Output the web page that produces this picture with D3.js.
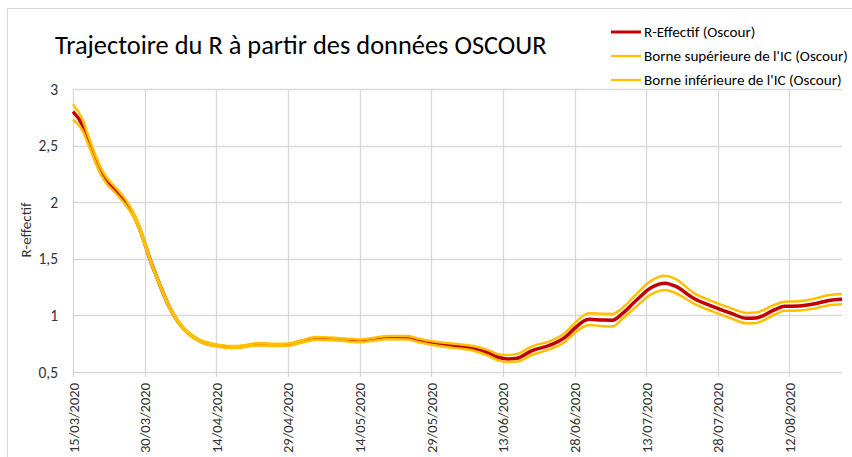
<!DOCTYPE html>
<html><head><meta charset="utf-8">
<script src="https://cdn.jsdelivr.net/npm/d3@7"></script>
<style>
html,body{margin:0;padding:0;background:#fff;}
svg{display:block;font-family:Carlito,Lato,"Liberation Sans",sans-serif;}
</style></head><body>
<svg id="chart" width="852" height="457"></svg>
<script>
// ---- DATA ----
const title = "Trajectoire du R à partir des données OSCOUR";
const yLabel = "R-effectif";
const seriesNames = ["R-Effectif (Oscour)", "Borne supérieure de l'IC (Oscour)", "Borne inférieure de l'IC (Oscour)"];
const dates = ["2020-03-15","2020-03-17","2020-03-18","2020-03-20","2020-03-21","2020-03-22","2020-03-24","2020-03-26","2020-03-28","2020-03-30",
"2020-03-31","2020-04-02","2020-04-04","2020-04-05","2020-04-07","2020-04-09","2020-04-11","2020-04-13","2020-04-16","2020-04-18",
"2020-04-20","2020-04-23","2020-04-26","2020-04-29","2020-05-02","2020-05-05","2020-05-08","2020-05-11","2020-05-14","2020-05-17",
"2020-05-20","2020-05-24","2020-05-26","2020-05-29","2020-06-03","2020-06-07","2020-06-10","2020-06-12","2020-06-14","2020-06-16",
"2020-06-19","2020-06-23","2020-06-26","2020-06-28","2020-07-01","2020-07-04","2020-07-06","2020-07-08","2020-07-11","2020-07-14",
"2020-07-17","2020-07-19","2020-07-23","2020-07-27","2020-07-31","2020-08-03","2020-08-05","2020-08-09","2020-08-11","2020-08-14",
"2020-08-17","2020-08-20","2020-08-23"];
const rEffectif = [2.80,2.68,2.57,2.35,2.26,2.19,2.10,2.00,1.86,1.64,
1.51,1.29,1.09,1.01,0.89,0.815,0.767,0.742,0.724,0.72,
0.73,0.745,0.739,0.741,0.772,0.797,0.792,0.784,0.775,0.79,
0.803,0.802,0.783,0.757,0.73,0.707,0.668,0.63,0.615,0.622,
0.687,0.74,0.805,0.885,0.965,0.959,0.958,1.015,1.136,1.245,
1.285,1.26,1.15,1.078,1.015,0.974,0.977,1.052,1.08,1.083,
1.10,1.13,1.142];
const borneSup = [2.865,2.73,2.61,2.385,2.29,2.22,2.125,2.025,1.88,1.655,
1.52,1.30,1.10,1.02,0.90,0.825,0.777,0.752,0.733,0.729,
0.739,0.755,0.749,0.751,0.783,0.809,0.804,0.796,0.788,0.803,
0.817,0.817,0.799,0.774,0.749,0.728,0.693,0.658,0.65,0.66,
0.725,0.775,0.845,0.93,1.02,1.015,1.013,1.063,1.19,1.305,
1.35,1.325,1.197,1.122,1.06,1.022,1.025,1.095,1.12,1.125,
1.145,1.178,1.19];
const borneInf = [2.73,2.63,2.53,2.32,2.23,2.165,2.075,1.975,1.845,1.625,
1.50,1.28,1.08,1.00,0.88,0.806,0.758,0.733,0.715,0.711,
0.721,0.735,0.729,0.731,0.761,0.785,0.78,0.772,0.762,0.777,
0.789,0.787,0.767,0.74,0.711,0.686,0.643,0.603,0.588,0.592,
0.65,0.705,0.765,0.845,0.915,0.905,0.902,0.97,1.08,1.185,
1.225,1.2,1.105,1.033,0.97,0.93,0.933,1.01,1.04,1.043,
1.06,1.088,1.098];
const yTicks = [0.5,1,1.5,2,2.5,3];
const xTickLabels = ["15/03/2020","30/03/2020","14/04/2020","29/04/2020","14/05/2020","29/05/2020","13/06/2020","28/06/2020","13/07/2020","28/07/2020","12/08/2020"];

// ---- CHART ----
const svg = d3.select("#chart");
const parse = d3.utcParse("%Y-%m-%d");
const parseTick = d3.utcParse("%d/%m/%Y");
const pts = dates.map((d,i)=>({date:parse(d), r:rEffectif[i], up:borneSup[i], lo:borneInf[i]}));

const x = d3.scaleUtc().domain([parse("2020-03-15"), parse("2020-08-23")]).range([73, 842]);
const y = d3.scaleLinear().domain([0.5, 3]).range([372, 89]);

const grid = "#d9d9d9";
const txt = "#333333";
// frame
svg.append("rect").attr("x",7.5).attr("y",8.5).attr("width",860).attr("height",470)
  .attr("fill","none").attr("stroke",grid).attr("stroke-width",1);

// horizontal gridlines
svg.append("g").selectAll("line").data(yTicks).join("line")
  .attr("x1",73).attr("x2",842).attr("y1",d=>Math.round(y(d))+0.5).attr("y2",d=>Math.round(y(d))+0.5)
  .attr("stroke",grid).attr("stroke-width",1.3);
// vertical gridlines + ticks
const xTickDates = xTickLabels.map(parseTick);
svg.append("g").selectAll("line").data(xTickDates).join("line")
  .attr("x1",d=>Math.round(x(d))+0.5).attr("x2",d=>Math.round(x(d))+0.5)
  .attr("y1",89).attr("y2",377)
  .attr("stroke",grid).attr("stroke-width",1.3);

// y tick labels
svg.append("g").selectAll("text").data(yTicks).join("text")
  .attr("x",58).attr("y",d=>y(d)+5.5).attr("text-anchor","end")
  .attr("font-size",15.5).attr("fill",txt)
  .text(d=>d3.format("")(d).replace(".",","));
// y label
svg.append("text").attr("transform","translate(31,230) rotate(-90)")
  .attr("text-anchor","middle").attr("font-size",15).attr("fill",txt).text(yLabel);
// x tick labels
svg.append("g").selectAll("text").data(xTickDates).join("text")
  .attr("transform",(d,i)=>`translate(${x(d)+5.5},383) rotate(-90)`)
  .attr("text-anchor","end").attr("font-size",14.5).attr("fill",txt)
  .text((d,i)=>xTickLabels[i]);

// lines
const mk = key => d3.line().x(d=>x(d.date)).y(d=>y(d[key])).curve(d3.curveMonotoneX);
svg.append("path").datum(pts).attr("d",mk("r")).attr("fill","none").attr("stroke","#C00000").attr("stroke-width",3.5).attr("stroke-linejoin","round");
svg.append("path").datum(pts).attr("d",mk("up")).attr("fill","none").attr("stroke","#FFC000").attr("stroke-width",2.5).attr("stroke-linejoin","round");
svg.append("path").datum(pts).attr("d",mk("lo")).attr("fill","none").attr("stroke","#FFC000").attr("stroke-width",2.5).attr("stroke-linejoin","round");

// title
const t = svg.append("text").attr("x",55).attr("y",54).attr("font-size",26).attr("fill","#000").text(title);
const tw = t.node().getComputedTextLength();
t.attr("font-size", 26*492/tw);

// legend
const legColors = ["#C00000","#FFC000","#FFC000"];
const legW = [3,2.2,2.2];
const legY = [32,56,80];
const lg = svg.append("g");
seriesNames.forEach((n,i)=>{
  lg.append("line").attr("x1",611).attr("x2",641).attr("y1",legY[i]).attr("y2",legY[i])
    .attr("stroke",legColors[i]).attr("stroke-width",legW[i]);
  lg.append("text").attr("class","lt").attr("x",644).attr("y",legY[i]+5).attr("font-size",14).attr("fill","#000").text(n);
});
const lt = lg.selectAll("text.lt").nodes();
const w1 = lt[1].getComputedTextLength();
const fs = 14*204/w1;
lg.selectAll("text.lt").attr("font-size",fs);
</script>
</body></html>
